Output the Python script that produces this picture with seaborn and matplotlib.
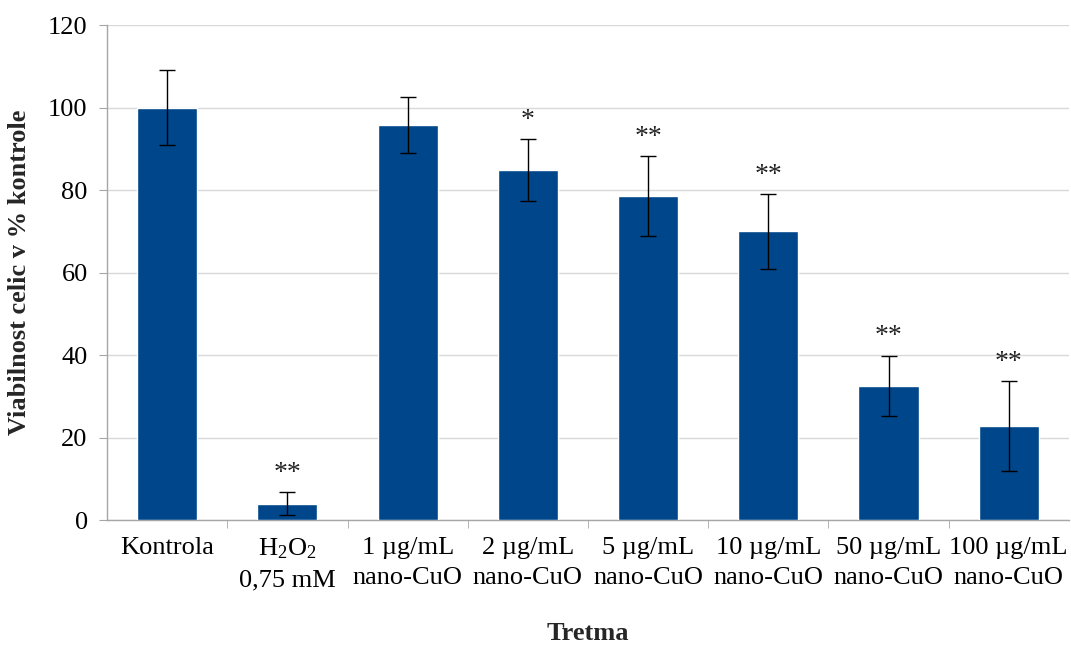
import numpy as np
import pandas as pd
import seaborn as sns
import matplotlib.pyplot as plt
from matplotlib.ticker import MultipleLocator, FixedLocator

categories = ["Kontrola", "H$_2$O$_2$\n0,75 mM", "1 µg/mL\nnano-CuO", "2 µg/mL\nnano-CuO",
              "5 µg/mL\nnano-CuO", "10 µg/mL\nnano-CuO", "50 µg/mL\nnano-CuO", "100 µg/mL\nnano-CuO"]
viability = [100, 4.0, 95.8, 84.9, 78.6, 70.0, 32.6, 22.9]
errors = [9.1, 2.8, 6.7, 7.5, 9.7, 9.1, 7.3, 10.9]
stars = ["", "**", "", "*", "**", "**", "**", "**"]

sns.set_style("white")
plt.rcParams['font.family'] = ['Liberation Serif', 'DejaVu Serif']
plt.rcParams['mathtext.fontset'] = 'custom'
plt.rcParams['mathtext.rm'] = 'Liberation Serif'
plt.rcParams['mathtext.it'] = 'Liberation Serif:italic'
plt.rcParams['text.color'] = 'black'
plt.rcParams['xtick.color'] = 'black'
plt.rcParams['ytick.color'] = 'black'

df = pd.DataFrame({"Tretma": categories, "val": viability, "err": errors})

fig, ax = plt.subplots(figsize=(10.71, 6.47), dpi=100)
fig.subplots_adjust(left=0.1, right=0.998, top=0.961, bottom=0.196)

sns.barplot(data=df, x="Tretma", y="val", color="#00468b", saturation=1, width=0.5, ax=ax, zorder=3)
ax.errorbar(np.arange(len(df)), df["val"], yerr=df["err"], fmt="none", ecolor="black",
            elinewidth=1, capsize=6, capthick=1, zorder=4)

for i, s in enumerate(stars):
    if s:
        ax.text(i, viability[i] + errors[i] + 1.5, s, ha="center", va="bottom", fontsize=20, color="#222222")

ax.set_ylim(0, 120)
ax.set_xlim(-0.5, len(categories) - 0.5)
ax.yaxis.set_major_locator(MultipleLocator(20))
ax.grid(axis="y", color="#d9d9d9", linewidth=1, zorder=0)
ax.set_axisbelow(True)

for side in ["top", "right"]:
    ax.spines[side].set_visible(False)
for side in ["left", "bottom"]:
    ax.spines[side].set_color("#a6a6a6")
    ax.spines[side].set_linewidth(1)

ax.tick_params(axis="x", which="major", length=0, labelsize=19, pad=12)
ax.xaxis.set_minor_locator(FixedLocator(np.arange(0.5, len(categories) - 0.5, 1)))
ax.tick_params(axis="x", which="minor", length=6, color="#a6a6a6", bottom=True)
ax.tick_params(axis="y", length=6, color="#a6a6a6", labelcolor="black", labelsize=19, left=True, pad=8)
for lab in ax.get_xticklabels():
    lab.set_linespacing(1.45)

ax.set_xlabel("Tretma", fontsize=19, fontweight="bold", labelpad=22)
ax.set_ylabel("Viabilnost celic v % kontrole", fontsize=19, fontweight="bold", labelpad=12)

fig.savefig("out.png", dpi=100)
